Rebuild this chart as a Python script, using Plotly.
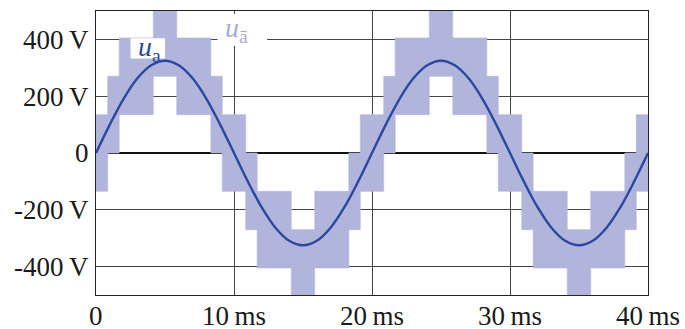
import plotly.graph_objects as go

# ---- data ----
t_ms = list(range(0, 41))
u_a = [0, 100, 191, 263, 309, 325, 309, 263, 191, 100,
       0, -100, -191, -263, -309, -325, -309, -263, -191, -100,
       0, 100, 191, 263, 309, 325, 309, 263, 191, 100,
       0, -100, -191, -263, -309, -325, -309, -263, -191, -100, 0]

# switching bands of u_ā : start time, end time (ms), lower and upper level (V)
band_t0 = [0, 8.32, 19.15, 28.32, 39.15,
           0.85, 5.85, 20.85, 25.85,
           1.68, 21.68,
           4.15, 24.15,
           0, 9.15, 18.32, 29.15, 38.32,
           10.85, 15.85, 30.85, 35.85,
           11.68, 31.68,
           14.15, 34.15]
band_t1 = [1.68, 10.85, 21.68, 30.85, 40,
           4.15, 9.15, 24.15, 29.15,
           8.32, 28.32,
           5.85, 25.85,
           0.85, 11.68, 20.85, 31.68, 40,
           14.15, 19.15, 34.15, 39.15,
           18.32, 38.32,
           15.85, 35.85]
band_lo = [0, 0, 0, 0, 0,
           135, 135, 135, 135,
           270, 270,
           405, 405,
           -135, -135, -135, -135, -135,
           -270, -270, -270, -270,
           -405, -405,
           -540, -540]
band_hi = [135, 135, 135, 135, 135,
           270, 270, 270, 270,
           405, 405,
           540, 540,
           0, 0, 0, 0, 0,
           -135, -135, -135, -135,
           -270, -270,
           -405, -405]

x_ticks = [0, 10, 20, 30, 40]
x_labels = ["0", "10\u2009ms", "20\u2009ms", "30\u2009ms", "40\u2009ms"]
y_ticks = [-400, -200, 0, 200, 400]
y_labels = ["-400\u2009V", "-200\u2009V", "0", "200\u2009V", "400\u2009V"]

SHADE = "#b1b5dc"
LINE = "#2b47a0"
FONT = "Liberation Serif"

# build rectangle paths
bx, by = [], []
for a, b, lo, hi in zip(band_t0, band_t1, band_lo, band_hi):
    bx += [a, b, b, a, a, None]
    by += [lo, lo, hi, hi, lo, None]

fig = go.Figure()
fig.add_trace(go.Scatter(x=bx, y=by, mode="lines", fill="toself",
                         fillcolor=SHADE, line=dict(color=SHADE, width=0.6),
                         hoverinfo="skip", showlegend=False))
fig.add_trace(go.Scatter(x=t_ms, y=u_a, mode="lines",
                         line=dict(color=LINE, width=2.4, shape="spline"),
                         showlegend=False))

# white label boxes
fig.add_shape(type="rect", xref="x", yref="y", x0=2.5, x1=5.0, y0=333, y1=404,
              fillcolor="white", line=dict(width=0), layer="above")
fig.add_shape(type="rect", xref="x", yref="y", x0=8.8, x1=12.4, y0=378, y1=490,
              fillcolor="white", line=dict(width=0), layer="above")

fig.add_annotation(x=3.85, y=368, xref="x", yref="y", showarrow=False,
                   text="<i>u</i><sub>a</sub>",
                   font=dict(family=FONT, size=28, color=LINE))
fig.add_annotation(x=10.2, y=434, xref="x", yref="y", showarrow=False,
                   text="<i>u</i><sub>\u0101</sub>",
                   font=dict(family=FONT, size=28, color="#a6aad8"))

# x tick labels placed on the x scale
for tv, tl in zip(x_ticks, x_labels):
    fig.add_annotation(x=tv, y=0, xref="x", yref="paper", showarrow=False,
                       text=tl, yanchor="middle", xanchor="center", yshift=-21,
                       height=26, borderpad=0, valign="middle",
                       font=dict(family=FONT, size=27, color="#1a1a1a"))

fig.update_xaxes(range=[0, 40], tickvals=x_ticks, showticklabels=False,
                 showgrid=True, gridcolor="#444444", gridwidth=1,
                 zeroline=False, showline=True, linecolor="#222222",
                 linewidth=1.2, mirror=True, ticks="", automargin=False)
fig.update_yaxes(range=[-500, 500], tickvals=y_ticks, ticktext=y_labels,
                 showgrid=True, gridcolor="#444444", gridwidth=1,
                 zeroline=True, zerolinecolor="#111111", zerolinewidth=1.6,
                 showline=True, linecolor="#222222", linewidth=1.2, mirror=True,
                 ticks="", ticklabelstandoff=1, automargin=False)

fig.update_layout(width=685, height=329,
                  margin=dict(l=96, r=37, t=11, b=34),
                  plot_bgcolor="white", paper_bgcolor="white",
                  font=dict(family=FONT, size=27, color="#1a1a1a"),
                  showlegend=False)

fig.write_html("out.html")
